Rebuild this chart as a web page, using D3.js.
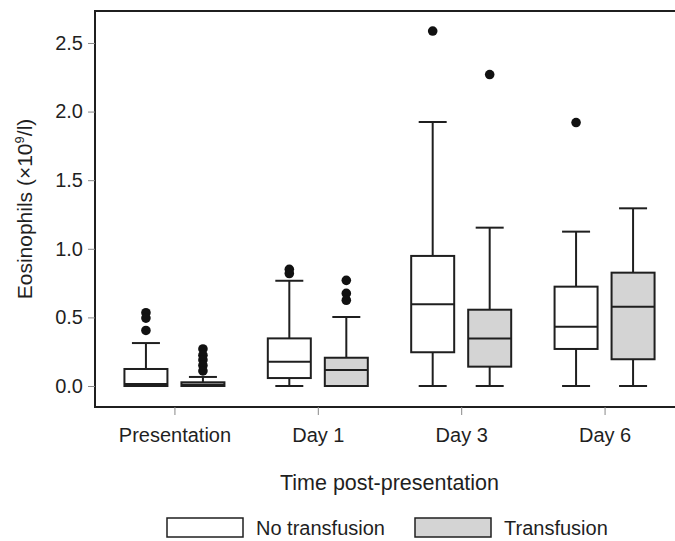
<!DOCTYPE html>
<html>
<head>
<meta charset="utf-8">
<script src="https://cdn.jsdelivr.net/npm/d3@7"></script>
<style>
  body { margin: 0; background: #fff; }
  svg { display: block; font-family: "Liberation Sans", Arial, sans-serif; }
</style>
</head>
<body>
<svg id="chart" width="675" height="541"></svg>
<script>
// time points on the x axis
const timePoints = ["Presentation", "Day 1", "Day 3", "Day 6"];
const seriesNames = ["No transfusion", "Transfusion"];

// [lower whisker, q1, median, q3, upper whisker] per time point
const noTransfusionStats = [
  [0, 0, 0.015, 0.124, 0.313],
  [0, 0.058, 0.177, 0.347, 0.767],
  [0, 0.246, 0.595, 0.948, 1.924],
  [0, 0.27, 0.432, 0.724, 1.125]
];
const transfusionStats = [
  [0, 0, 0.01, 0.027, 0.066],
  [0, 0, 0.117, 0.206, 0.503],
  [0, 0.141, 0.347, 0.556, 1.154],
  [0, 0.195, 0.578, 0.826, 1.295]
];

// outliers per time point
const noTransfusionOutliers = [
  [0.534, 0.495, 0.405],
  [0.85, 0.82],
  [2.587],
  [1.92]
];
const transfusionOutliers = [
  [0.27, 0.225, 0.19, 0.15, 0.11],
  [0.77, 0.675, 0.625],
  [2.27],
  []
];

const yTicks = [0, 0.5, 1.0, 1.5, 2.0, 2.5];

let plotLeft = 95,
    plotRight = 684,   // a bit past the picture's right edge
    plotTop = 11,
    plotBottom = 407,
    boxW = 43,
    boxGap = 7,   // half gap between the two boxes of a pair
    capW = 28,
    dotR = 4.8,
    ink = "#1f1f1f";

let svg = d3.select("#chart");

let x = d3.scalePoint().domain(timePoints).range([plotLeft, plotRight]).padding(0.554);
let y = d3.scaleLinear().domain([-0.153, 2.733]).range([plotBottom, plotTop]);

// frame (right side falls outside the picture)
svg.append("rect")
    .attr("x", plotLeft).attr("y", plotTop)
    .attr("width", 620).attr("height", plotBottom - plotTop)
    .attr("fill", "none")
    .attr("stroke", ink)
    .attr("stroke-width", 2);

// y axis
let yAxis = svg.append("g")
    .attr("transform", "translate(" + plotLeft + ",0)")
    .call(d3.axisLeft(y).tickValues(yTicks).tickFormat(d3.format(".1f")).tickSize(7).tickPadding(5));
yAxis.select(".domain").remove();
yAxis.selectAll(".tick line").attr("stroke", "#888");
yAxis.selectAll(".tick text").attr("fill", ink).style("font-size", "20px");

// x axis
let xAxis = svg.append("g")
    .attr("transform", "translate(0," + plotBottom + ")")
    .call(d3.axisBottom(x).tickSize(8).tickPadding(13));
xAxis.select(".domain").remove();
xAxis.selectAll(".tick line").attr("stroke", "#888");
xAxis.selectAll(".tick text").attr("fill", ink).style("font-size", "20px");

// axis titles
svg.append("text")
    .attr("x", (plotLeft + plotRight) / 2)
    .attr("y", 490)
    .attr("text-anchor", "middle")
    .attr("fill", ink)
    .style("font-size", "21.5px")
    .text("Time post-presentation");

let yTitle = svg.append("text")
    .attr("transform", "translate(32," + ((plotTop + plotBottom) / 2) + ") rotate(-90)")
    .attr("text-anchor", "middle")
    .attr("fill", ink)
    .style("font-size", "21px");
yTitle.append("tspan").text("Eosinophils (\u00d710");
yTitle.append("tspan").attr("dy", -8).style("font-size", "13px").text("9");
yTitle.append("tspan").attr("dy", 8).text("/l)");

// boxes
function drawSeries(stats, outliers, offset, fill) {
    let g = svg.append("g");
    stats.forEach(function (s, i) {
        let cx = x(timePoints[i]) + offset;
        // whisker stems
        g.append("line")
            .attr("x1", cx).attr("x2", cx)
            .attr("y1", y(s[0])).attr("y2", y(s[1]))
            .attr("stroke", ink).attr("stroke-width", 2);
        g.append("line")
            .attr("x1", cx).attr("x2", cx)
            .attr("y1", y(s[3])).attr("y2", y(s[4]))
            .attr("stroke", ink).attr("stroke-width", 2);
        // caps
        [s[0], s[4]].forEach(function (v) {
            g.append("line")
                .attr("x1", cx - capW / 2).attr("x2", cx + capW / 2)
                .attr("y1", y(v)).attr("y2", y(v))
                .attr("stroke", ink).attr("stroke-width", 2);
        });
        // box
        g.append("rect")
            .attr("x", cx - boxW / 2)
            .attr("y", y(s[3]))
            .attr("width", boxW)
            .attr("height", y(s[1]) - y(s[3]))
            .attr("fill", fill)
            .attr("stroke", ink).attr("stroke-width", 2);
        // median
        g.append("line")
            .attr("x1", cx - boxW / 2).attr("x2", cx + boxW / 2)
            .attr("y1", y(s[2])).attr("y2", y(s[2]))
            .attr("stroke", ink).attr("stroke-width", 2);
        // outliers
        g.selectAll(null)
            .data(outliers[i])
            .enter().append("circle")
            .attr("cx", cx)
            .attr("cy", function (d) { return y(d); })
            .attr("r", dotR)
            .attr("fill", "#111");
    });
}

drawSeries(noTransfusionStats, noTransfusionOutliers, -(boxGap + boxW / 2), "#fff");
drawSeries(transfusionStats, transfusionOutliers, boxGap + boxW / 2, "#d4d4d4");

// legend
let legendX = [167, 415],
    legendFill = ["#fff", "#d4d4d4"];
seriesNames.forEach(function (name, i) {
    svg.append("rect")
        .attr("x", legendX[i]).attr("y", 518)
        .attr("width", 76).attr("height", 19)
        .attr("fill", legendFill[i])
        .attr("stroke", ink).attr("stroke-width", 1.5);
    svg.append("text")
        .attr("x", legendX[i] + 89).attr("y", 535)
        .attr("fill", ink)
        .style("font-size", "20px")
        .text(name);
});
</script>
</body>
</html>
